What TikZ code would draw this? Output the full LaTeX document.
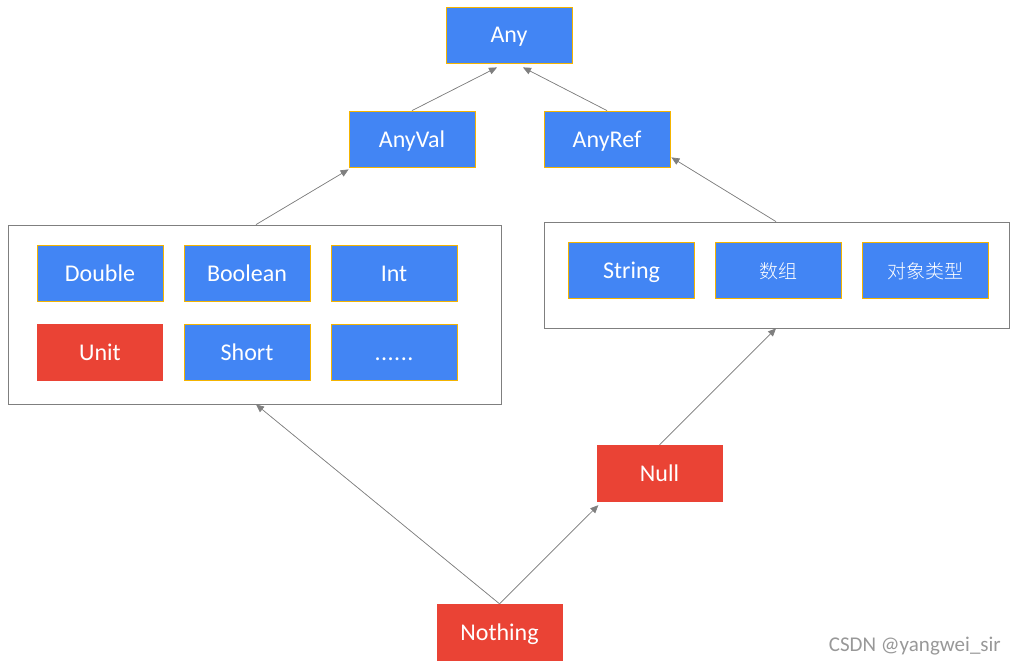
\documentclass[tikz,border=0pt]{standalone}
\usepackage{fontspec}
\setmainfont{Carlito}
\newfontfamily\cjk{Noto Sans CJK SC Light}
\usetikzlibrary{arrows.meta}
\definecolor{gblue}{RGB}{66,133,244}
\definecolor{gred}{RGB}{234,67,53}
\definecolor{gold}{RGB}{244,180,0}
\definecolor{lgray}{RGB}{127,127,127}
\tikzset{
  x=1pt, y=-1pt,
  bbox/.style={rectangle, fill=gblue, draw=gold, line width=0.8pt, minimum width=126pt, minimum height=56pt, inner sep=0pt, text=white, text height=16pt, text depth=0pt, font=\fontsize{24}{28}\selectfont},
  rbox/.style={rectangle, fill=gred, minimum width=126pt, minimum height=57pt, inner sep=0pt, text=white, text height=16pt, text depth=0pt, font=\fontsize{24}{28}\selectfont},
  cbox/.style={rectangle, draw=lgray, line width=0.8pt, inner sep=0pt},
  arr/.style={draw=lgray, line width=0.7pt, -{Triangle[length=8pt,width=7pt]}, fill=lgray}
}
\begin{document}
\begin{tikzpicture}
\useasboundingbox (0,0) rectangle (1017,666);
% containers
\node[cbox, minimum width=493pt, minimum height=179pt] (leftbox) at (254.5,314.5) {};
\node[cbox, minimum width=465pt, minimum height=106pt] (rightbox) at (776.5,275) {};
% top
\node[bbox] (any) at (509,35) {Any};
\node[bbox] (anyval) at (412,139) {AnyVal};
\node[bbox] (anyref) at (607,139) {AnyRef};
% value types
\node[bbox] (double) at (100,273.5) {Double};
\node[bbox] (boolean) at (247,273.5) {Boolean};
\node[bbox] (int) at (394,273.5) {Int};
\node[rbox, draw=none] (unit) at (100,352) {Unit};
\node[bbox] (short) at (247,352.5) {Short};
\node[bbox] (dots) at (394,352.5) {.\kern0.5pt.\kern0.5pt.\kern0.5pt.\kern0.5pt.\kern0.5pt.};
% ref types
\node[bbox] (string) at (631.5,270) {String};
\node[bbox, font=\cjk\fontsize{19}{23}\selectfont] (array) at (778,270) {数组};
\node[bbox, font=\cjk\fontsize{19}{23}\selectfont] (objtype) at (925.5,270) {对象类型};
% bottom
\node[rbox] (null) at (659.5,473.5) {Null};
\node[rbox] (nothing) at (499.5,632.5) {Nothing};
% watermark
\node[anchor=east, text=lgray!80, font=\fontsize{21}{25}\selectfont, inner sep=0pt] (wm) at (1001,646) {CSDN @yangwei\_sir};
% arrows
\draw[arr] (anyval.north) -- ([xshift=-12pt,yshift=-4pt]any.south);
\draw[arr] (anyref.north) -- ([xshift=14pt,yshift=-4pt]any.south);
\draw[arr] ([xshift=1.5pt]leftbox.north) -- ([xshift=0pt,yshift=-2pt]anyval.south west);
\draw[arr] ([xshift=-0.5pt]rightbox.north) -- ([xshift=1pt,yshift=10pt]anyref.south east);
\draw[arr] (nothing.north) -- ([xshift=1.5pt]leftbox.south);
\draw[arr] (nothing.north) -- ([xshift=2pt,yshift=-3pt]null.south west);
\draw[arr] (null.north) -- ([xshift=-0.5pt]rightbox.south);
\end{tikzpicture}
\end{document}
